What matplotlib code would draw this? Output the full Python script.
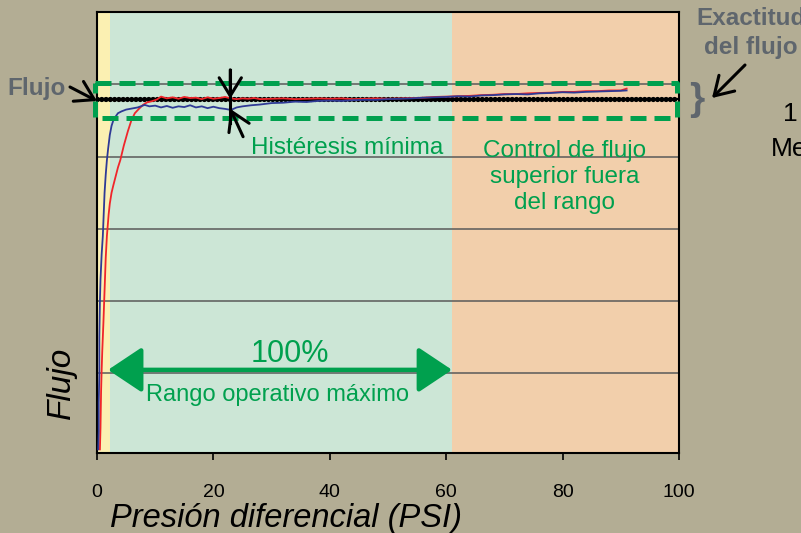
import numpy as np
import matplotlib.pyplot as plt
from matplotlib.patches import FancyArrowPatch

plt.rcParams['font.family'] = ['Liberation Sans', 'DejaVu Sans']

# Data (x = differential pressure in PSI, y = flow in %)
blue_x = [0.2, 0.3, 0.3, 0.4, 0.4, 0.5, 0.6, 0.8, 1.0, 1.1,
          1.2, 1.3, 1.5, 1.7, 1.9, 2.2, 2.5, 2.9, 3.3, 3.6,
          4.2, 5.0, 6.0, 7.0, 8.2, 9.0, 10, 11, 12, 13,
          14, 15, 16, 17, 18, 19, 20, 21, 22, 23,
          24, 25, 26.5, 28, 30, 32, 34, 36, 38, 40,
          42, 44, 46, 48, 50, 52, 54, 56, 58, 60,
          62, 64, 66, 68, 70, 72, 74, 76, 78, 80,
          82, 84, 86, 88, 90, 91]
blue_y = [-1, 4, 12, 20, 30, 40, 46, 53, 58, 62,
          66, 70, 75, 79, 82, 86, 88.5, 90.5, 91.3, 92,
          92.5, 93.0, 93.3, 93.6, 94.3, 93.9, 94.1, 93.6, 94.0, 93.5,
          93.9, 93.7, 94.2, 93.6, 93.9, 93.4, 93.8, 93.4, 93.2, 92.9,
          93.6, 93.9, 94.2, 94.4, 94.8, 94.9, 95.2, 95.1, 95.4, 95.5,
          95.4, 95.6, 95.7, 95.7, 95.9, 96.0, 96.1, 96.3, 96.4, 96.5,
          96.7, 96.6, 96.9, 97.0, 97.2, 97.3, 97.2, 97.5, 97.6, 97.8,
          97.7, 97.9, 98.0, 98.1, 98.2, 98.3]

red_x = [0.5, 0.6, 0.7, 0.8, 0.9, 1.0, 1.1, 1.3, 1.5, 1.7,
         2.0, 2.2, 2.5, 2.8, 3.2, 3.6, 4.0, 4.6, 5.3, 5.9,
         6.5, 7.2, 7.9, 8.6, 9.4, 10.3, 11, 12, 13, 14,
         15, 16, 17, 18, 19, 20, 21, 22, 23, 24,
         25, 26, 27, 28, 30, 32, 34, 36, 38, 40,
         42, 44, 46, 48, 50, 52, 54, 56, 58, 60,
         62, 64, 66, 68, 70, 72, 74, 76, 78, 80,
         82, 84, 86, 88, 90, 91]
red_y = [-1, 5, 15, 21, 26, 30, 34, 43, 52, 58,
         64, 67, 70, 72, 74.5, 77, 79, 83, 87, 90,
         92, 93.2, 94.3, 95.0, 95.3, 95.8, 96.6, 96.1, 96.4, 96.0,
         96.5, 96.2, 96.3, 95.9, 96.4, 96.0, 96.2, 96.5, 96.1, 95.9,
         96.1, 96.0, 96.2, 95.9, 96.0, 96.1, 95.9, 96.0, 96.1, 96.0,
         96.1, 95.9, 96.0, 96.1, 96.0, 96.1, 96.2, 96.3, 96.5, 96.6,
         96.7, 96.8, 97.0, 97.1, 97.3, 97.3, 97.5, 97.6, 97.7, 97.9,
         97.9, 98.1, 98.1, 98.3, 98.3, 98.8]

setpoint = 96
setpoint_x = [0, 99.6]
band_low, band_high = 90.8, 100.4
band_x = [-0.3, 99.6]

zone_low = [0, 2.2]       # yellow
zone_ok = [2.2, 61]       # green, max operating range
zone_high = [61, 100]     # orange

x_ticks = [0, 20, 40, 60, 80, 100]
grid_y = [20, 40, 60, 80, 100]

# colours
bg = '#B3AD94'
green = '#00A04E'
gray = '#5F666D'

W, H = 801, 533


def fpx(x, y):
    # pixel position -> figure fraction
    return x / W, 1 - y / H


fig = plt.figure(figsize=(W / 100, H / 100), dpi=100)
fig.patch.set_facecolor(bg)
ax = fig.add_axes([97 / W, 1 - 453 / H, (679 - 97) / W, (453 - 12) / H])

ax.axvspan(*zone_low, color='#FBF0B2', lw=0, zorder=0)
ax.axvspan(*zone_ok, color='#CCE6D6', lw=0, zorder=0)
ax.axvspan(*zone_high, color='#F2CFAB', lw=0, zorder=0)

ax.set_xlim(0, 100)
ax.set_ylim(-2, 120)
ax.set_xticks(x_ticks)
ax.set_yticks(grid_y)
ax.set_yticklabels([])
ax.tick_params(axis='y', length=0)
ax.tick_params(axis='x', direction='out', length=5, width=1.2, labelsize=14, pad=17)
ax.grid(axis='y', color='#5A5A5A', lw=1.1, zorder=1)
for s in ax.spines.values():
    s.set_linewidth(1.5)
    s.set_color('black')

# setpoint flow line (beaded look)
ax.plot(setpoint_x, [setpoint, setpoint], color='black', lw=1.6, zorder=3)
ax.plot(setpoint_x, [setpoint, setpoint], color='black', lw=3.8,
        linestyle=(0, (0.01, 0.8)), dash_capstyle='round', zorder=3)

# flow curves
ax.plot(red_x, red_y, color='#F0252A', lw=1.3, zorder=4)
ax.plot(blue_x, blue_y, color='#2E3A96', lw=1.3, zorder=5)

# accuracy band (dashed box)
bx = [band_x[0], band_x[1], band_x[1], band_x[0], band_x[0]]
by = [band_high, band_high, band_low, band_low, band_high]
ax.plot(bx, by, color=green, lw=3.6, linestyle=(0, (3.2, 1.6)), clip_on=False, zorder=6)

# minimum hysteresis marker
hx = 22.9
head = '->,head_length=1.3,head_width=0.8'
ax.plot([hx, hx], [104, 89.4], color='black', lw=2.2, zorder=7)
ax.annotate('', xy=(hx, setpoint), xytext=(hx, 104),
            arrowprops=dict(arrowstyle=head, lw=2.2, color='black',
                            shrinkA=0, shrinkB=0), zorder=7)
ax.annotate('', xy=(hx, 93.2), xytext=(25.1, 85.5),
            arrowprops=dict(arrowstyle=head, lw=2.2, color='black',
                            shrinkA=0, shrinkB=0), zorder=7)

# max operating range double arrow
ax.annotate('', xy=(61, 21), xytext=(1.9, 21),
            arrowprops=dict(arrowstyle='<|-|>,head_length=2.1,head_width=1.4',
                            lw=3.2, color=green, shrinkA=0, shrinkB=0), zorder=7)

# texts inside the plot
fs = 17.5
fig.text(*fpx(347, 148), 'Histéresis mínima', color=green, fontsize=fs,
         ha='center', va='center')
fig.text(*fpx(565, 177), 'Control de flujo\nsuperior fuera\ndel rango', color=green,
         fontsize=fs, ha='center', va='center', linespacing=1.25)
fig.text(*fpx(290, 354), '100%', color=green, fontsize=22, ha='center', va='center')
fig.text(*fpx(278, 395), 'Rango operativo máximo', color=green, fontsize=17,
         ha='center', va='center')

# texts and arrows outside
fig.text(*fpx(37, 88), 'Flujo', color=gray, fontsize=fs, fontweight='bold',
         ha='center', va='center')
fig.text(*fpx(751, 33), 'Exactitud\ndel flujo', color=gray, fontsize=fs,
         fontweight='bold', ha='center', va='center', linespacing=1.3)
fig.text(*fpx(783, 114), '1', color='black', fontsize=19, ha='left', va='center')
fig.text(*fpx(771, 149), 'Me', color='black', fontsize=19, ha='left', va='center')
fig.text(*fpx(697, 100), '}', color=gray, fontsize=28, fontweight='bold',
         ha='center', va='center')

for p0, p1 in [((70, 87), (97, 101)), ((745, 65), (712, 98))]:
    fig.add_artist(FancyArrowPatch(
        fpx(*p0), fpx(*p1), transform=fig.transFigure, mutation_scale=10,
        arrowstyle=head, lw=2.2, color='black', shrinkA=0, shrinkB=0))

fig.text(*fpx(286, 518), 'Presión diferencial (PSI)', color='black', fontsize=23.5,
         fontstyle='italic', ha='center', va='center')
fig.text(*fpx(61, 383), 'Flujo', color='black', fontsize=24, fontstyle='italic',
         rotation=90, ha='center', va='center')

plt.savefig('out.png', dpi=100, facecolor=bg)
